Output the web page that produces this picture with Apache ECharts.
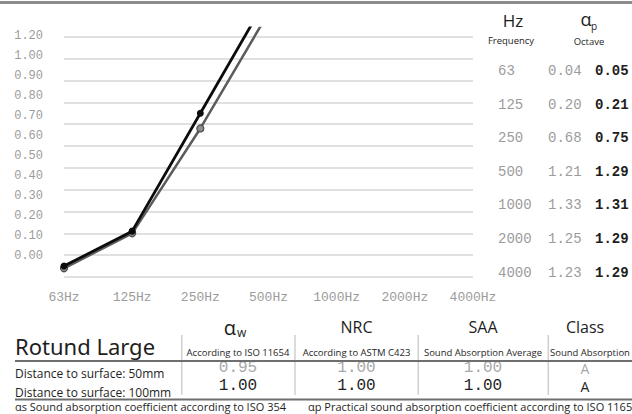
<!DOCTYPE html>
<html>
<head>
<meta charset="utf-8">
<script src="https://cdn.jsdelivr.net/npm/echarts@6/dist/echarts.min.js"></script>
<style>
  html, body { margin: 0; padding: 0; background: #fff; }
  #main { width: 632px; height: 414px; }
</style>
</head>
<body>
<div id="main"></div>
<script>
// octave band centre frequencies (Hz)
var freqs = [63, 125, 250, 500, 1000, 2000, 4000];
// practical sound absorption coefficient, 50mm and 100mm from the surface
var alphaP50 = [0.04, 0.20, 0.68, 1.21, 1.33, 1.25, 1.23];
var alphaP100 = [0.05, 0.21, 0.75, 1.29, 1.31, 1.29, 1.29];
// the graph only draws the first bands (63..500Hz)
var plottedBands = 4;
var yTickLabels = ['0.00', '0.10', '0.20', '0.30', '0.40', '0.50', '0.60', '0.70', '0.80', '0.90', '1.00', '1.20'];

// single number ratings table
var productName = 'Rotund Large';
var ratingTitles = ['α', 'NRC', 'SAA', 'Class'];
var ratingSubs = ['w', '', '', ''];
var ratingNotes = ['According to ISO 11654', 'According to ASTM C423', 'Sound Absorption Average', 'Sound Absorption Class'];
var rowLabels = ['Distance to surface: 50mm', 'Distance to surface: 100mm'];
var rating50 = ['0.95', '1.00', '1.00', 'A'];
var rating100 = ['1.00', '1.00', '1.00', 'A'];
var footNotes = ['αs Sound absorption coefficient according to ISO 354', 'αp Practical sound absorption coefficient according to ISO 11654'];

var MONO = '"Liberation Mono", "DejaVu Sans Mono", monospace';
var SANS = '"Open Sans", "Noto Sans", sans-serif';
var LIGHT = '#9c9c9c';
var DARK = '#1e1e1e';

function txt(x, y, text, font, fill, align) {
  return {
    type: 'text', x: x, y: y, silent: true,
    style: { text: text, font: font, fill: fill, textAlign: align || 'left', textVerticalAlign: 'middle' }
  };
}
function hline(x1, x2, y, color, w) {
  return { type: 'line', silent: true, shape: { x1: x1, y1: y, x2: x2, y2: y }, style: { stroke: color, lineWidth: w } };
}
function vline(x, y1, y2, color, w) {
  return { type: 'line', silent: true, shape: { x1: x, y1: y1, x2: x, y2: y2 }, style: { stroke: color, lineWidth: w } };
}

var graphics = [];
// grey bar across the top
graphics.push({ type: 'rect', silent: true, shape: { x: 0, y: 1, width: 632, height: 3 }, style: { fill: '#8c8c8c' } });

// right hand octave table
graphics.push(txt(513, 20, 'Hz', '17px ' + SANS, DARK, 'center'));
graphics.push(txt(511, 40, 'Frequency', '9.5px ' + SANS, DARK, 'center'));
graphics.push(txt(586, 19, 'α', '18px ' + SANS, DARK, 'center'));
graphics.push(txt(591, 26, 'p', '10px ' + SANS, DARK, 'left'));
graphics.push(txt(589, 41, 'Octave', '9.5px ' + SANS, DARK, 'center'));
freqs.forEach(function (f, i) {
  var y = 71 + i * 33.6;
  graphics.push(txt(498, y, String(f), '14px ' + MONO, LIGHT, 'left'));
  graphics.push(txt(548, y, alphaP50[i].toFixed(2), '14px ' + MONO, LIGHT, 'left'));
  graphics.push(txt(595, y, alphaP100[i].toFixed(2), 'bold 14px ' + MONO, DARK, 'left'));
});

// bottom ratings table
var colX = [238, 356.5, 483, 585];
var sepX = [181.7, 295, 418.3, 548.3];
graphics.push(txt(15, 346, productName, '22px "Noto Sans", sans-serif', DARK, 'left'));
sepX.forEach(function (x) { graphics.push(vline(x, 335, 395, '#cfcfcf', 1.5)); });
ratingTitles.forEach(function (t, i) {
  if (ratingSubs[i]) {
    graphics.push(txt(colX[i] - 2, 327, t, '20px ' + SANS, DARK, 'right'));
    graphics.push(txt(colX[i] - 1, 332, ratingSubs[i], '12px ' + SANS, DARK, 'left'));
  } else {
    graphics.push(txt(colX[i], 327, t, '16px ' + SANS, DARK, 'center'));
  }
  if (i < ratingNotes.length - 1) {
    graphics.push(txt(colX[i], 352, ratingNotes[i], '9.5px ' + SANS, DARK, 'center'));
  } else {
    graphics.push(txt(550, 352, ratingNotes[i], '9.5px ' + SANS, DARK, 'left'));
  }
  var isNum = rating50[i] !== 'A';
  graphics.push(txt(colX[i], 368, rating50[i], (isNum ? '16px ' + MONO : '14px ' + SANS), '#a8a8a8', 'center'));
  graphics.push(txt(colX[i], 386, rating100[i], (isNum ? '16px ' + MONO : '14px ' + SANS), DARK, 'center'));
});
graphics.push(hline(15, 632, 361, '#6f6f6f', 2));
graphics.push(txt(15, 373, rowLabels[0], '12px ' + SANS, DARK, 'left'));
graphics.push(txt(15, 392, rowLabels[1], '12px ' + SANS, DARK, 'left'));
graphics.push(hline(15, 632, 399.5, '#6f6f6f', 2));
graphics.push(txt(15, 406.5, footNotes[0], '11px ' + SANS, DARK, 'left'));
graphics.push(txt(308, 406.5, footNotes[1], '11px ' + SANS, DARK, 'left'));

var chart = echarts.init(document.getElementById('main'), null, { renderer: 'svg' });
chart.setOption({
  animation: false,
  backgroundColor: '#fff',
  grid: [
    // plot area: 0 sits on the bottom line, top slightly above the last grid line
    { left: 64, right: 159, top: 28, bottom: 137, outerBoundsMode: 'none' },
    // tick label column
    { left: 64, right: 159, top: 36, bottom: 158, outerBoundsMode: 'none' }
  ],
  xAxis: [
    {
      gridIndex: 0,
      type: 'category',
      boundaryGap: false,
      data: freqs.map(function (f) { return f + 'Hz'; }),
      axisLine: { show: false },
      axisTick: { show: false },
      axisLabel: { interval: 0, margin: 14, color: LIGHT, fontFamily: MONO, fontSize: 13 }
    },
    { gridIndex: 1, type: 'value', show: false }
  ],
  yAxis: [
    {
      gridIndex: 0,
      type: 'value',
      min: 0,
      max: 1.14,
      interval: 0.1,
      axisLine: { show: false },
      axisTick: { show: false },
      axisLabel: { show: false },
      splitLine: { show: true, showMaxLine: false, lineStyle: { color: '#d6d6d6', width: 1.5 } }
    },
    {
      gridIndex: 1,
      type: 'value',
      min: 0,
      max: 1.1,
      interval: 0.1,
      axisLine: { show: false },
      axisTick: { show: false },
      splitLine: { show: false },
      axisLabel: {
        margin: 21,
        color: LIGHT,
        fontFamily: MONO,
        fontSize: 12,
        formatter: function (v) { return yTickLabels[Math.round(v * 10)]; }
      }
    }
  ],
  series: [
    {
      name: '50mm',
      type: 'line',
      xAxisIndex: 0,
      yAxisIndex: 0,
      data: alphaP50.slice(0, plottedBands),
      symbol: 'circle',
      symbolSize: 7,
      lineStyle: { color: '#5c5c5c', width: 2.5 },
      itemStyle: { color: '#8e8e8e', borderColor: '#4a4a4a', borderWidth: 1.2 },
      z: 3
    },
    {
      name: '100mm',
      type: 'line',
      xAxisIndex: 0,
      yAxisIndex: 0,
      data: alphaP100.slice(0, plottedBands),
      symbol: 'circle',
      symbolSize: 7,
      lineStyle: { color: '#0c0c0c', width: 2.8 },
      itemStyle: { color: '#0c0c0c', borderWidth: 0 },
      z: 4
    }
  ],
  graphic: graphics
});
</script>
</body>
</html>
